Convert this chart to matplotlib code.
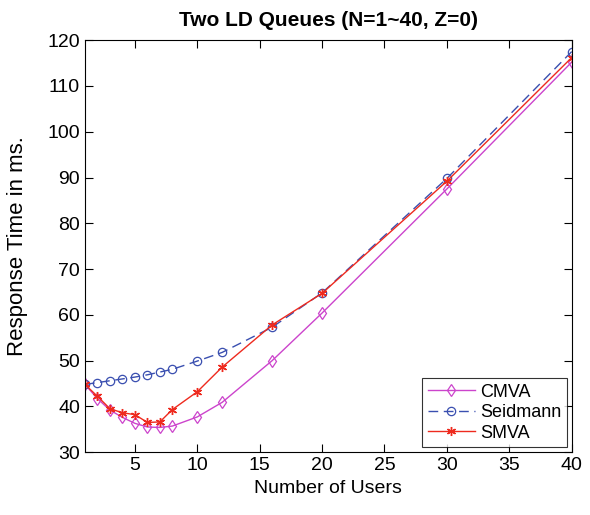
import matplotlib
matplotlib.use("Agg")
import matplotlib.pyplot as plt

users = [1, 2, 3, 4, 5, 6, 7, 8, 10, 12, 16, 20, 30, 40]
cmva = [44.8, 41.7, 39.2, 37.6, 36.3, 35.5, 35.4, 35.7, 37.7, 40.9, 50.0, 60.4, 87.5, 115.2]
seidmann = [44.8, 45.2, 45.6, 46.0, 46.4, 46.9, 47.5, 48.1, 49.9, 51.8, 57.3, 64.8, 89.8, 117.5]
smva = [44.8, 42.2, 39.5, 38.6, 38.2, 36.5, 36.6, 39.3, 43.2, 48.6, 57.8, 64.7, 89.2, 116.2]

plt.rcParams['font.family'] = ['Liberation Sans', 'DejaVu Sans']

fig = plt.figure(figsize=(5.9, 5.15), dpi=100)
ax = fig.add_axes([0.144, 0.122, 0.825, 0.8])

ax.plot(users, cmva, color='#cc44cc', lw=1.0, marker='d', ms=6.5, mfc='none', mec='#cc44cc', mew=0.9, label='CMVA')
ax.plot(users, seidmann, color='#3a4fb0', lw=1.0, ls=(0, (7, 4)), marker='o', ms=6, mfc='none', mec='#3a4fb0', mew=0.9, label='Seidmann')
ax.plot(users, smva, color='#ee2a1e', lw=1.0, marker=(6, 2, 0), ms=6.5, mfc='none', mec='#ee2a1e', mew=1.0, label='SMVA')

ax.set_xlim(1, 40)
ax.set_ylim(30, 120)
ax.set_xticks([5, 10, 15, 20, 25, 30, 35, 40])
ax.set_yticks(range(30, 121, 10))
ax.tick_params(direction='in', top=True, right=True, labelsize=14, length=6)
for s in ax.spines.values():
    s.set_linewidth(0.8)

ax.set_xlabel('Number of Users', fontsize=14, labelpad=4)
ax.set_ylabel('Response Time in ms.', fontsize=16, labelpad=14)
ax.set_title('Two LD Queues (N=1~40, Z=0)', fontsize=15, fontweight='bold', pad=10)

leg = ax.legend(loc='lower right', fontsize=13, frameon=True, fancybox=False, edgecolor='black',
                borderpad=0.3, handlelength=2.6, handletextpad=0.3, labelspacing=0.2,
                borderaxespad=0.0, bbox_to_anchor=(0.99, 0.012))
leg.get_frame().set_linewidth(0.8)

fig.savefig('out.png', dpi=100)
